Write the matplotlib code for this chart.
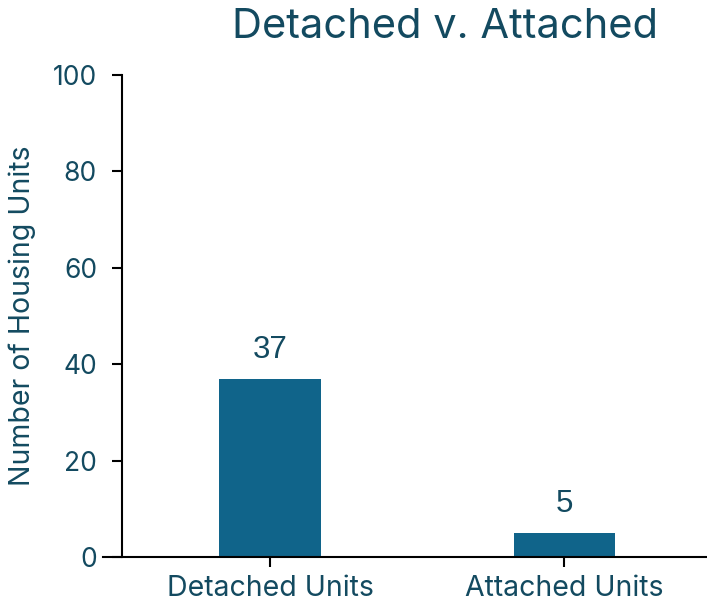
import matplotlib
matplotlib.use("Agg")
from matplotlib import pyplot as plt

# data
categories = ["Detached Units", "Attached Units"]
units = [37, 5]
yticks = [0, 20, 40, 60, 80, 100]

txt_col = "#134a60"
bar_col = "#10648a"

plt.rcParams['font.family'] = ['Inter', 'DejaVu Sans']

fig = plt.figure(figsize=(7.07, 6.06), dpi=100)
ax = fig.add_axes([103/707, 49/606, 604/707, 482/606])

x = range(len(categories))
bars = ax.bar(x, units, width=0.344, color=bar_col)

for xi, v in zip(x, units):
    ax.text(xi, v + 2.9, str(v), ha='center', va='bottom', fontsize=22.5,
            color=txt_col, family=['Liberation Sans'])

ax.set_xlim(-0.568, 1.486)
ax.set_ylim(0, 100)
ax.set_xticks(list(x))
ax.set_xticklabels(categories)
ax.set_yticks(yticks)

for s in ['top', 'right']:
    ax.spines[s].set_visible(False)
ax.spines['left'].set_position(('data', -0.503))
ax.spines['left'].set_linewidth(1.5)
ax.spines['bottom'].set_linewidth(1.5)
ax.tick_params(axis='both', length=7, width=1.5, labelcolor=txt_col)
ax.tick_params(axis='y', pad=11, labelsize=19)
ax.tick_params(axis='x', pad=6, labelsize=20.5)

ax.set_ylabel('Number of Housing Units', fontsize=20.5, color=txt_col, labelpad=12)
fig.text(445/707, 1 - 27/606, 'Detached v. Attached', ha='center', va='center',
         fontsize=30, color=txt_col)

fig.savefig('out.png', dpi=100)
